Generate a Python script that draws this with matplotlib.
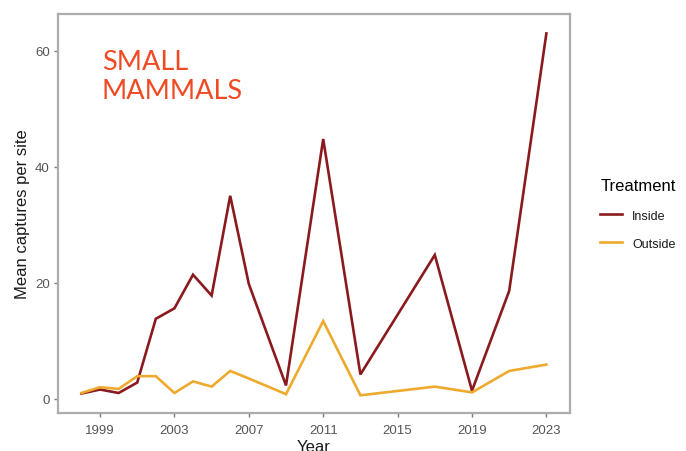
import matplotlib
matplotlib.use("Agg")
import matplotlib.pyplot as plt

plt.rcParams["font.family"] = ["Liberation Sans", "DejaVu Sans"]

# Mean captures per site by year
years_inside = [1998, 1999, 2000, 2001, 2002, 2003, 2004, 2005, 2006, 2007,
                2009, 2011, 2013, 2017, 2019, 2021, 2023]
inside = [0.9, 1.6, 1.0, 2.8, 13.8, 15.6, 21.4, 17.8, 35.0, 19.8,
          2.3, 44.8, 4.2, 24.8, 1.4, 18.6, 63.0]

years_outside = [1998, 1999, 2000, 2001, 2002, 2003, 2004, 2005, 2006, 2007,
                 2009, 2011, 2013, 2017, 2019, 2021, 2023]
outside = [1.0, 2.0, 1.7, 3.9, 3.9, 1.0, 3.0, 2.1, 4.8, 3.5,
           0.8, 13.4, 0.6, 2.1, 1.1, 4.8, 5.9]

x_ticks = [1999, 2003, 2007, 2011, 2015, 2019, 2023]
y_ticks = [0, 20, 40, 60]

W, H = 686, 452
fig = plt.figure(figsize=(W / 100, H / 100), dpi=100)
ax = fig.add_axes([58 / W, 38 / H, (570 - 58) / W, (414 - 15) / H])

ax.plot(years_inside, inside, color="#8B1A1F", lw=1.9, label="Inside",
        solid_joinstyle="miter")
ax.plot(years_outside, outside, color="#EEAA2E", lw=1.9, label="Outside",
        solid_joinstyle="miter")

ax.set_xlim(1996.74, 2024.27)
ax.set_ylim(-2.45, 66.35)
ax.set_xticks(x_ticks)
ax.set_yticks(y_ticks)

for s in ax.spines.values():
    s.set_color("#ADADAD")
    s.set_linewidth(1.6)

ax.tick_params(axis="both", colors="#7A7A7A", length=3, width=1.0,
               labelsize=9.5, labelcolor="#555555")
ax.tick_params(axis="x", pad=5)
ax.tick_params(axis="y", pad=3)

ax.set_xlabel("Year", fontsize=12, color="#1A1A1A")
ax.xaxis.set_label_coords(0.5, -0.066)
ax.set_ylabel("Mean captures per site", fontsize=12, color="#1A1A1A")
ax.yaxis.set_label_coords(-0.055, 0.5)

ax.text(102 / W, 1 - 50 / H, "SMALL\nMAMMALS", transform=fig.transFigure,
        fontsize=19.5, color="#F04A24", family="Lato", va="top", ha="left",
        linespacing=1.2)

leg = fig.legend(loc="upper left", bbox_to_anchor=(589 / W, 1 - 168 / H),
                 frameon=False, title="Treatment", title_fontsize=12,
                 fontsize=9, handlelength=1.75, handletextpad=0.8,
                 labelspacing=1.3, alignment="left")
for t in leg.get_texts():
    t.set_color("#1A1A1A")

fig.savefig("out.png", dpi=100)
